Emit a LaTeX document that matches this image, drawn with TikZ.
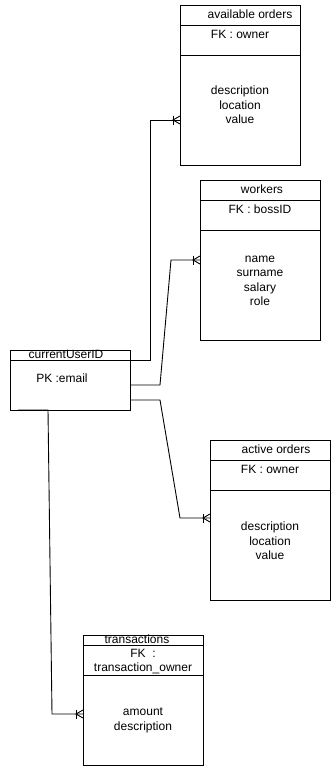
\documentclass[tikz,border=0pt]{standalone}
\usepackage{fontspec}
\setmainfont{Liberation Sans}
\begin{document}
\begin{tikzpicture}[x=1pt,y=-1pt,
  cell/.style={draw, line width=1pt, anchor=north west, minimum width=120pt,
    inner sep=0pt, outer sep=0pt},
  txt/.style={font=\fontsize{12}{14.5}\selectfont, inner sep=0pt,
    text height=8.6pt, text depth=2.4pt},
  para/.style={font=\fontsize{12}{14.5}\selectfont, align=center, inner sep=0pt},
  link/.style={draw, line width=0.9pt, line join=miter},
  crow/.pic={
    \draw[line width=0.9pt] (-7,-4.5) -- (-7,4.5);
    \draw[line width=0.9pt] (0,-4) -- (-7,0) -- (0,4);
  }
]
\useasboundingbox (0,0) rectangle (331,766);

% currentUserID
\node[cell, minimum height=10pt] (cu-h) at (10,350) {};
\node[cell, minimum height=50pt] (cu-b) at (10,360) {};
\node[txt] (cu-t) at (66,355) {currentUserID};
\node[txt] (cu-k) at (62,379) {PK :email};

% available orders
\node[cell, minimum height=20pt] (ao-h) at (180,5) {};
\node[cell, minimum height=30pt] (ao-k) at (180,25) {};
\node[cell, minimum height=110pt] (ao-b) at (180,55) {};
\node[txt] (ao-t) at (250,15) {available orders};
\node[txt] (ao-f) at (240,35) {FK : owner};
\node[para] (ao-a) at (240,105) {description\\location\\value};

% workers
\node[cell, minimum height=20pt] (wk-h) at (200,180) {};
\node[cell, minimum height=30pt] (wk-k) at (200,200) {};
\node[cell, minimum height=110pt] (wk-b) at (200,230) {};
\node[txt] (wk-t) at (262,190) {workers};
\node[txt] (wk-f) at (260,210) {FK : bossID};
\node[para] (wk-a) at (260,281) {name\\surname\\salary\\role};

% active orders
\node[cell, minimum height=20pt] (ac-h) at (210,440) {};
\node[cell, minimum height=30pt] (ac-k) at (210,460) {};
\node[cell, minimum height=110pt] (ac-b) at (210,490) {};
\node[txt] (ac-t) at (276,450) {active orders};
\node[txt] (ac-f) at (270,470) {FK : owner};
\node[para] (ac-a) at (270,541) {description\\location\\value};

% transactions
\node[cell, minimum height=10pt] (tr-h) at (83,635) {};
\node[cell, minimum height=30pt] (tr-k) at (83,645) {};
\node[cell, minimum height=90pt] (tr-b) at (83,675) {};
\node[txt] (tr-t) at (137,640) {transactions};
\node[para] (tr-f) at (143,661.5) {FK \ :\\transaction\_owner};
\node[para] (tr-a) at (143,720.5) {amount\\description};

% connectors with crow's foot ends
\coordinate (c1) at (150,360);
\coordinate (ao-in) at (180,120);
\draw[link] (cu-b.north east) -- (c1) |- (ao-in) pic{crow};

\coordinate (c2a) at (160,385);
\coordinate (c2b) at (171,260);
\coordinate (wk-in) at (200,260);
\draw[link] (cu-b.east) -- (c2a) -- (c2b) -- (wk-in) pic{crow};

\coordinate (c3s) at (130,400);
\coordinate (c3a) at (160,400);
\coordinate (c3b) at (180,518);
\coordinate (ac-in) at (210,518);
\draw[link] (c3s) -- (c3a) -- (c3b) -- (ac-in) pic{crow};

\coordinate (c4s) at (18,410);
\coordinate (c4a) at (48,410);
\coordinate (c4b) at (52,714);
\coordinate (tr-in) at (83,714);
\draw[link] (c4s) -- (c4a) -- (c4b) -- (tr-in) pic{crow};
\end{tikzpicture}
\end{document}
